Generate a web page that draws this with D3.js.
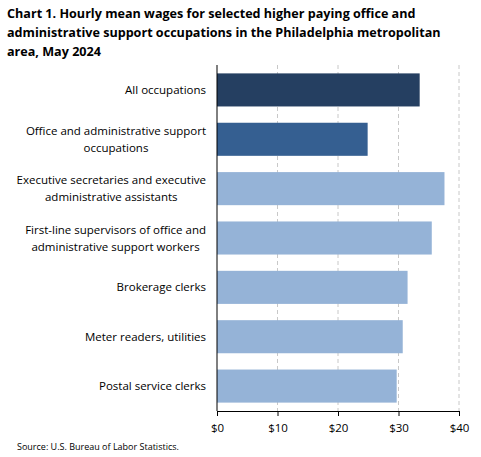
<!DOCTYPE html>
<html>
  <head>
    <meta charset="utf-8" />
    <script src="https://d3js.org/d3.v7.min.js"></script>
    <style>
        body { margin:0; background:#fff; }
        text { font-family: "Open Sans", "Liberation Sans", sans-serif; }
    </style>
  </head>
  <body>
    <svg id="viz"></svg>
    <script>
        var categories = [
            ["All occupations"],
            ["Office and administrative support", "occupations"],
            ["Executive secretaries and executive", "administrative assistants"],
            ["First-line supervisors of office and", "administrative support workers"],
            ["Brokerage clerks"],
            ["Meter readers, utilities"],
            ["Postal service clerks"]
        ];
        var wages = [33.5, 24.9, 37.6, 35.5, 31.5, 30.7, 29.7];
        var barColors = ["#253f61", "#355f91", "#95b3d7", "#95b3d7", "#95b3d7", "#95b3d7", "#95b3d7"];
        var ticks = [0, 10, 20, 30, 40];

        var width = 481, height = 457;
        var svg = d3.select("#viz").attr("width", width).attr("height", height);

        var title = ["Chart 1. Hourly mean wages for selected higher paying office and",
                     "administrative support occupations in the Philadelphia metropolitan",
                     "area, May 2024"];
        svg.selectAll(".title").data(title).enter().append("text")
            .attr("x", 7).attr("y", function (d, i) { return 18 + i * 19; })
            .attr("font-size", 12.6).attr("font-weight", "bold").attr("fill", "#000")
            .text(function (d) { return d; });

        var x = d3.scaleLinear().domain([0, 40]).range([217, 459]);
        var y = d3.scaleBand().domain(d3.range(categories.length)).range([65, 411]).paddingInner(0.33).paddingOuter(0.17);

        svg.selectAll(".grid").data(ticks.slice(1)).enter().append("line")
            .attr("x1", function (d) { return x(d); }).attr("x2", function (d) { return x(d); })
            .attr("y1", 65).attr("y2", 411)
            .attr("stroke", "#c8c8c8").attr("stroke-dasharray", "4,3");

        svg.selectAll(".bar").data(wages).enter().append("rect")
            .attr("x", x(0)).attr("y", function (d, i) { return y(i); })
            .attr("width", function (d) { return x(d) - x(0); })
            .attr("height", y.bandwidth())
            .attr("fill", function (d, i) { return barColors[i]; });

        var xAxis = svg.append("g").attr("transform", "translate(0,411)")
            .call(d3.axisBottom(x).tickValues(ticks).tickFormat(function (d) { return "$" + d; }).tickSize(5));
        xAxis.select(".domain").attr("stroke", "#000");
        xAxis.selectAll("text").attr("font-size", 11.5).attr("fill", "#000").attr("dy", "1.1em")
            .style("font-family", "'Open Sans', sans-serif");

        svg.append("line").attr("x1", x(0)).attr("x2", x(0)).attr("y1", 65).attr("y2", 411).attr("stroke", "#000");

        // label blocks: lines centred on each other, block right-aligned at 206
        var labels = svg.selectAll(".lab").data(categories).enter().append("text")
            .attr("text-anchor", "middle").attr("font-size", 11.5).attr("fill", "#000");
        labels.each(function (lines, i) {
            var cy = y(i) + y.bandwidth() / 2;
            var t = d3.select(this);
            var spans = lines.map(function (l, j) {
                return t.append("tspan")
                    .attr("y", cy + 4 + (j - (lines.length - 1) / 2) * 17)
                    .text(l);
            });
            var maxW = d3.max(spans, function (s) { return s.node().getComputedTextLength(); });
            spans.forEach(function (s) { s.attr("x", 206 - maxW / 2); });
        });

        svg.append("text").attr("x", 17).attr("y", 450).attr("font-size", 9).attr("fill", "#000")
            .text("Source: U.S. Bureau of Labor Statistics.");
    </script>
  </body>
</html>
